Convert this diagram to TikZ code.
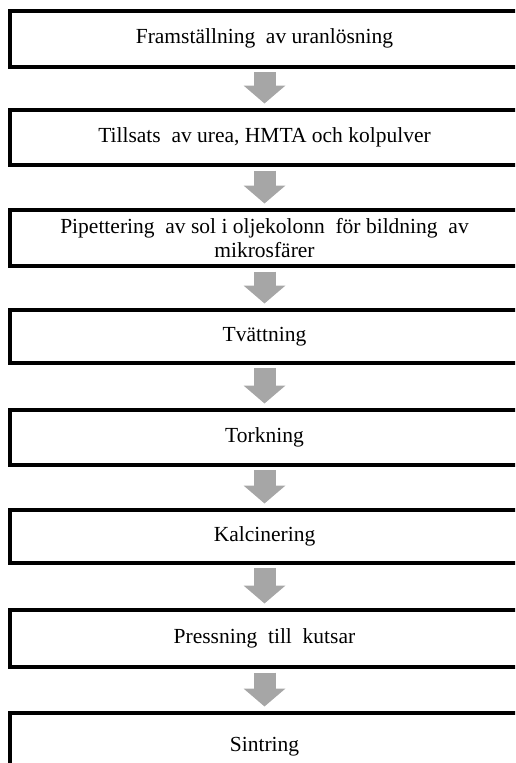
\documentclass[tikz,border=0pt]{standalone}
\usepackage{fontspec}
\setmainfont{Liberation Serif}
\usetikzlibrary{arrows.meta}
\definecolor{pilgra}{RGB}{166,166,166}
\begin{document}
\begin{tikzpicture}[x=1pt,y=-1pt,
	steg/.style={draw,line width=4pt,minimum width=514pt,inner sep=0pt,outer sep=0pt,
		align=center,font=\fontsize{21.5}{28}\selectfont},
	pil/.style={draw=pilgra,line width=22pt,-{Triangle[width=41pt,length=18pt]},
		shorten <=5.5pt,shorten >=6.5pt}]
			\clip (0,0) rectangle (515,763);
			\node[steg,minimum height=56pt] (fram) at (267,38.5) {\hspace*{-5pt}Framställning~ av uranlösning};
			\node[steg,minimum height=55pt] (tills) at (267,137.5) {\hspace*{-5pt}Tillsats~ av urea, HMTA och kolpulver};
			\node[steg,minimum height=56pt] (pip) at (267,238) {\hspace*{-5pt}Pipettering~ av sol i oljekolonn~ för bildning~ av\\[-4pt]\hspace*{-5pt}mikrosfärer};
			\node[steg,minimum height=52.5pt] (tvatt) at (267,336.25) {\hspace*{-5pt}Tvättning};
			\node[steg,minimum height=54.5pt] (tork) at (267,437.25) {\hspace*{-5pt}Torkning};
			\node[steg,minimum height=52.5pt] (kalc) at (267,536.25) {\hspace*{-5pt}Kalcinering};
			\node[steg,minimum height=57pt] (press) at (267,638.5) {\hspace*{-5pt}Pressning~ till~ kutsar};
			\node[steg,minimum height=67pt] (sint) at (267,746.5) {\hspace*{-5pt}Sintring};
%			gray block arrows
			\draw[pil] ([xshift=-2.5pt]fram.south) -- ([xshift=-2.5pt]tills.north);
			\draw[pil] ([xshift=-2.5pt]tills.south) -- ([xshift=-2.5pt]pip.north);
			\draw[pil] ([xshift=-2.5pt]pip.south) -- ([xshift=-2.5pt]tvatt.north);
			\draw[pil] ([xshift=-2.5pt]tvatt.south) -- ([xshift=-2.5pt]tork.north);
			\draw[pil] ([xshift=-2.5pt]tork.south) -- ([xshift=-2.5pt]kalc.north);
			\draw[pil] ([xshift=-2.5pt]kalc.south) -- ([xshift=-2.5pt]press.north);
			\draw[pil] ([xshift=-2.5pt]press.south) -- ([xshift=-2.5pt]sint.north);
		\end{tikzpicture}
\end{document}
